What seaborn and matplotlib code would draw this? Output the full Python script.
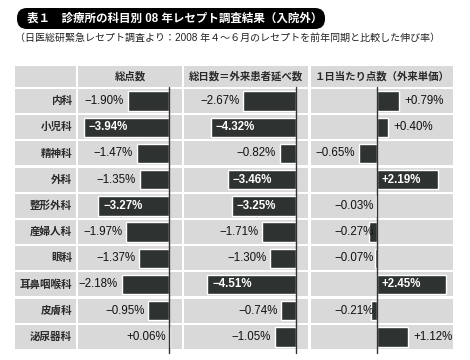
import matplotlib
matplotlib.use("Agg")
import matplotlib.pyplot as plt
import seaborn as sns
import pandas as pd
from matplotlib.patches import FancyBboxPatch
from matplotlib.transforms import IdentityTransform

# ---------------- data ----------------
categories = ["内科", "小児科", "精神科", "外科", "整形外科", "産婦人科",
              "眼科", "耳鼻咽喉科", "皮膚科", "泌尿器科"]
total_points = [-1.90, -3.94, -1.47, -1.35, -3.27, -1.97, -1.37, -2.18, -0.95, 0.06]
total_days = [-2.67, -4.32, -0.82, -3.46, -3.25, -1.71, -1.30, -4.51, -0.74, -1.05]
points_per_day = [0.79, 0.40, -0.65, 2.19, -0.03, -0.27, -0.07, 2.45, -0.21, 1.12]
headers = ["総点数", "総日数＝外来患者延べ数", "１日当たり点数（外来単価）"]
title = "表１　診療所の科目別 08 年レセプト調査結果（入院外）"
subtitle = "（日医総研緊急レセプト調査より：2008 年４〜６月のレセプトを前年同期と比較した伸び率）"

# ---------------- style ----------------
sns.set_theme(style="white")
plt.rcParams["font.family"] = ["Liberation Sans", "Noto Sans CJK JP"]

W, H = 470, 360
CELL = "#d9d9d9"
BAR = "#2e3230"

fig = plt.figure(figsize=(W / 100, H / 100), dpi=100)
fig.patch.set_facecolor("white")

TOP, BOT = 66, 351
YTOP, YBOT = -1.336, 9.54
HDR_LO, HDR_HI = -1.336, -0.534
HDR_Y = (HDR_LO + HDR_HI) / 2


def rect(l, r):
    return [l / W, 1 - BOT / H, (r - l) / W, (BOT - TOP) / H]


def cells(ax):
    ax.set_facecolor("white")
    ax.axhspan(HDR_LO, HDR_HI, color=CELL, zorder=0, lw=0)
    for i in range(len(categories)):
        ax.axhspan(i - 0.46, i + 0.46, color=CELL, zorder=0, lw=0)
    for s in ax.spines.values():
        s.set_visible(False)
    ax.set_xticks([])
    ax.set_yticks([])
    ax.set_xlabel("")
    ax.set_ylabel("")


# label column
axl = fig.add_axes(rect(15, 76))
axl.set_xlim(0, 1)
axl.set_ylim(YBOT, YTOP)
cells(axl)
for i, c in enumerate(categories):
    axl.text(57 / 61, i, c, ha="right", va="center", fontsize=7.6,
             fontweight="bold", color="#2a2a2a")

# data columns: (left px, right px, zero px, px per %)
cols = [(78, 182, 169, 21.7), (184, 308, 296, 19.7), (311, 453, 377, 28.0)]
series = [total_points, total_days, points_per_day]

for (l, r, z, sc), vals, hdr in zip(cols, series, headers):
    ax = fig.add_axes(rect(l, r))
    df = pd.DataFrame({"cat": categories, "val": vals})
    sns.barplot(data=df, x="val", y="cat", orient="h", color=BAR,
                width=0.74, saturation=1, ax=ax, zorder=2)
    ax.set_xlim(-(z - l) / sc, (r - z) / sc)
    ax.set_ylim(YBOT, YTOP)
    cells(ax)
    ax.axvline(0, ymin=-0.006, ymax=(BOT - 87) / (BOT - TOP), color="#333333",
               lw=1.0, zorder=3, clip_on=False)
    ax.text(0.5, HDR_Y, hdr, transform=ax.get_yaxis_transform(),
            ha="center", va="center", fontsize=7.5, fontweight="bold",
            color="#2a2a2a")
    px = 1 / sc  # one pixel in data units
    for i, v in enumerate(vals):
        lab = f"{v:+.2f}%".replace("-", "−")
        blen = abs(v) * sc
        if blen > 58:
            ax.text(min(v, 0) + 5 * px, i, lab, ha="left", va="center",
                    fontsize=8.3, fontweight="bold", color="white", zorder=4)
        elif blen < 8:
            ax.text(-3 * px, i, lab, ha="right", va="center",
                    fontsize=8.3, color="#111111", zorder=4)
        elif v < 0:
            ax.text(v - 4 * px, i, lab, ha="right", va="center",
                    fontsize=8.3, color="#111111", zorder=4)
        else:
            ax.text(v + 5 * px, i, lab, ha="left", va="center",
                    fontsize=8.3, color="#111111", zorder=4)

# title pill
pill = FancyBboxPatch((17, H - 29), 308, 21,
                      boxstyle="round,pad=0,rounding_size=10",
                      transform=IdentityTransform(), facecolor="black",
                      edgecolor="none")
fig.patches.append(pill)
fig.text(27 / W, 1 - 18.5 / H, title, color="white", fontsize=8.3,
         fontweight="bold", ha="left", va="center")
fig.text(15 / W, 1 - 37.5 / H, subtitle, color="#222222", fontsize=7.2,
         ha="left", va="center")

fig.savefig("out.png", dpi=100)
